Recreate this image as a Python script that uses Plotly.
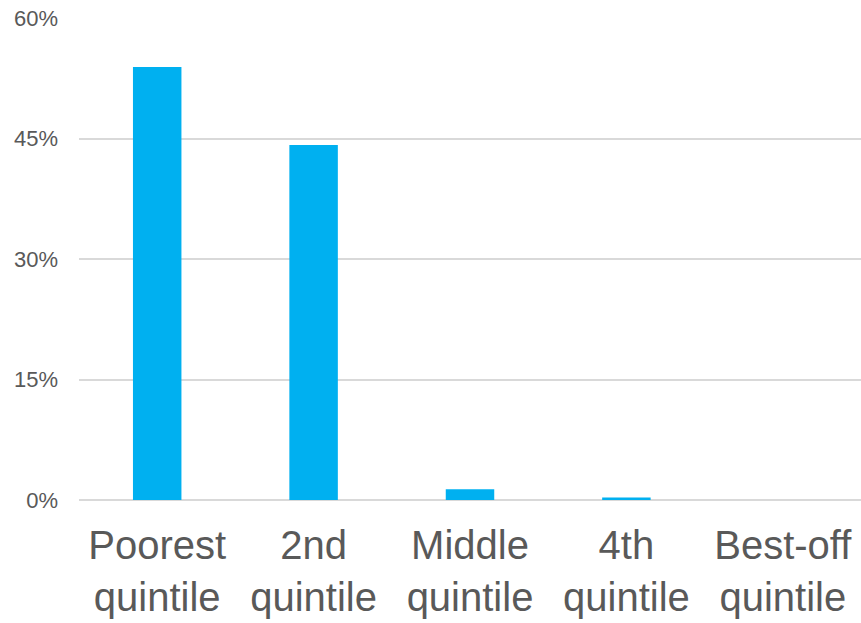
import plotly.graph_objects as go

categories = ["Poorest<br>quintile", "2nd<br>quintile", "Middle<br>quintile", "4th<br>quintile", "Best-off<br>quintile"]
shares = [53.9, 44.2, 1.35, 0.3, 0.0]
y_ticks = [0, 15, 30, 45, 60]
y_tick_labels = ["0%", "15%", "30%", "45%", "60%"]

fig = go.Figure(
    go.Bar(
        x=categories,
        y=shares,
        marker=dict(color="#00B0F0", line=dict(width=0)),
        hoverinfo="x+y",
    )
)

fig.update_layout(
    width=861,
    height=623,
    margin=dict(l=79, r=0, t=18, b=123),
    paper_bgcolor="white",
    plot_bgcolor="white",
    bargap=0.69,
    showlegend=False,
    font=dict(family="Liberation Sans, Arial, sans-serif", color="#595959"),
)

fig.update_xaxes(
    showgrid=False,
    showline=False,
    ticks="",
    tickfont=dict(size=40, color="#595959"),
    ticklabelstandoff=18,
)

fig.update_yaxes(
    range=[0, 60],
    tickvals=y_ticks,
    ticktext=y_tick_labels,
    showgrid=True,
    gridcolor="#D9D9D9",
    gridwidth=2,
    zeroline=True,
    zerolinecolor="#D9D9D9",
    zerolinewidth=2,
    showline=False,
    ticks="",
    tickfont=dict(size=22, color="#595959"),
    ticklabelstandoff=20,
)

fig.write_html("out.html")
